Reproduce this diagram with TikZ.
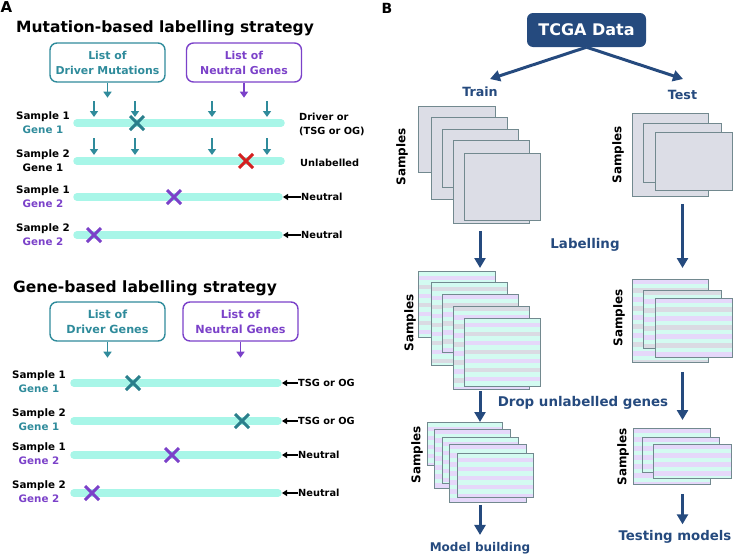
\documentclass[tikz,border=0pt]{standalone}
\usepackage{fontspec}
\setmainfont{DejaVu Sans}
\usetikzlibrary{arrows.meta,positioning,shapes.misc}

\definecolor{drvteal}{HTML}{2F8B9B}
\definecolor{drvtealdk}{HTML}{2A7F8C}
\definecolor{neupurple}{HTML}{7B41C9}
\definecolor{barcyan}{HTML}{A8F6E8}
\definecolor{mutred}{HTML}{D42020}
\definecolor{navy}{HTML}{254A7E}
\definecolor{sheetgray}{HTML}{DCDDE6}
\definecolor{sheetedge}{HTML}{72898F}
\definecolor{bandcyan}{HTML}{D3FBF1}
\definecolor{bandlav}{HTML}{E5D8FA}
\definecolor{bandgray}{HTML}{DADBE3}

\newcommand{\fsz}[2]{\fontsize{#1}{#2}\selectfont\bfseries}

\tikzset{
  listbox/.style={draw=#1,text=#1,line width=1.4pt,rounded corners=7pt,minimum width=115pt,
    minimum height=39pt,align=center,inner sep=0pt,font=\fsz{10.9}{15}},
  thinarr/.style={-{Triangle[length=6pt,width=8pt]},line width=1.5pt,draw=#1},
  barline/.style={line width=7.5pt,line cap=round,draw=barcyan},
  mutx/.style={cross out,draw=#1,line width=3pt,minimum size=11pt,inner sep=0pt},
  smp/.style={font=\fsz{10.3}{12},inner sep=0pt},
  sidelbl/.style={font=\fsz{9.8}{14},anchor=west,inner sep=0pt,align=left},
  lblarr/.style={-{Triangle[length=5pt,width=6pt]},line width=1.3pt},
  sheet/.style={draw=sheetedge,fill=sheetgray,line width=0.9pt,anchor=north west,inner sep=0pt},
  stripes/.style n args={2}{path picture={
    \foreach \k in {0,...,19}{
      \pgfmathtruncatemacro\bandc{mod(\k+#2,#1)}
      \ifcase\bandc\relax \def\bandcol{bandcyan}\or \def\bandcol{bandlav}\or
        \def\bandcol{bandcyan}\or \def\bandcol{bandgray}\fi
      \fill[\bandcol] ([yshift=-\k*4.5pt]path picture bounding box.north west)
        rectangle ([yshift=-\k*4.5pt-4.5pt]path picture bounding box.north east);
    }}},
  bigarr/.style={-{Triangle[length=10pt,width=11pt]},line width=3pt,draw=navy},
  steplbl/.style={text=navy,inner sep=0pt,font=\fsz{13.4}{16}},
  smpv/.style={rotate=90,inner sep=0pt,font=\fsz{12}{14}},
  tcgabox/.style={fill=navy,text=white,rounded corners=6pt,minimum width=119pt,
    minimum height=34pt,inner sep=0pt,font=\fsz{16}{19}},
}

\begin{document}
\begin{tikzpicture}[x=1pt,y=-1pt]
  \useasboundingbox (0,0) rectangle (733,557);

  % ---- A: mutation-based labelling
  \node[font=\fsz{15}{18},inner sep=0pt] (pa) at (6.5,7.5) {A};
  \node[font=\fsz{15.5}{18},anchor=west,inner sep=0pt] (mtitle) at (16,28) {Mutation-based labelling strategy};
  \node[listbox=drvteal] (mdrv) at (107.5,62.5) {List of\\Driver Mutations};
  \node[listbox=neupurple] (mneu) at (244,62.5) {List of\\Neutral Genes};
  \draw[thinarr=drvteal] (mdrv.south) -- ++(0,15);
  \draw[thinarr=neupurple] (mneu.south) -- ++(0,15);
  \foreach \x in {94,135,212,267}{
    \draw[thinarr=drvteal] (\x,101) -- (\x,117);
    \draw[thinarr=drvteal] (\x,138) -- (\x,155);
  }
  \foreach \r/\y/\xe/\s/\g/\gc in {1/123/281/1/1/drvteal,2/161/281/2/1/black,
      3/197/279/1/2/neupurple,4/235/279/2/2/neupurple}{
    \draw[barline] (77,\y) -- (\xe,\y);
    \coordinate (mb\r) at (\xe+4,\y);
    \node[smp] (ms\r) at (43,\y-6) {Sample \s};
    \node[smp,text=\gc] (mg\r) at (43,\y+7) {Gene \g};
  }
  \node[mutx=drvtealdk] (mx1) at (137,123) {};
  \node[mutx=mutred] (mx2) at (246,161) {};
  \node[mutx=neupurple] (mx3) at (174,197) {};
  \node[mutx=neupurple] (mx4) at (94,235) {};
  \node[sidelbl] (ml1) at (299,124) {Driver or\\(TSG or OG)};
  \node[sidelbl] (ml2) at (300,163) {Unlabelled};
  \node[sidelbl] (ml3) at (301,197) {Neutral};
  \node[sidelbl] (ml4) at (301,235) {Neutral};
  \draw[lblarr] (ml3) -- (mb3);
  \draw[lblarr] (ml4) -- (mb4);

  % ---- A: gene-based labelling
  \node[font=\fsz{15.5}{18},anchor=west,inner sep=0pt] (gtitle) at (13,288) {Gene-based labelling strategy};
  \node[listbox=drvteal,font=\fsz{11.2}{15}] (gdrv) at (107.5,321.5) {List of\\Driver Genes};
  \node[listbox=neupurple,font=\fsz{11.2}{15}] (gneu) at (240.5,321.5) {List of\\Neutral Genes};
  \draw[thinarr=drvteal] (gdrv.south) -- ++(0,16);
  \draw[thinarr=neupurple] (gneu.south) -- ++(0,16);
  \foreach \r/\y/\s/\g/\gc/\lb in {1/383/1/1/drvteal/TSG or OG,2/421/2/1/drvteal/TSG or OG,
      3/455/1/2/neupurple/Neutral,4/493/2/2/neupurple/Neutral}{
    \draw[barline] (74,\y) -- (278,\y);
    \coordinate (gb\r) at (282,\y);
    \node[smp] (gs\r) at (39,\y-7) {Sample \s};
    \node[smp,text=\gc] (gg\r) at (39,\y+6) {Gene \g};
    \node[sidelbl] (gl\r) at (298,\y) {\lb};
    \draw[lblarr] (gl\r) -- (gb\r);
  }
  \node[mutx=drvtealdk] (gx1) at (133,383) {};
  \node[mutx=drvtealdk] (gx2) at (242,421) {};
  \node[mutx=neupurple] (gx3) at (172,455) {};
  \node[mutx=neupurple] (gx4) at (92,493) {};

  % ---- B: workflow
  \node[font=\fsz{14}{17},inner sep=0pt] (pb) at (387,8) {B};
  \node[tcgabox] (tcga) at (586.5,30) {TCGA Data};
  \node[steplbl,font=\fsz{12.7}{15}] (train) at (480,92) {Train};
  \node[steplbl,font=\fsz{12.7}{15}] (test) at (682.5,95) {Test};
  \coordinate (trtip) at (490,79);
  \coordinate (tstip) at (683,79);
  \draw[bigarr] (tcga.south) -- (trtip);
  \draw[bigarr] (tcga.south) -- (tstip);

  % raw sheets
  \foreach \i/\x/\y/\w/\h in {1/418/106/77/66,2/431/117/76/82,3/442/129/76/58,4/453/140/76/83,5/464/153/76/67}
    \node[sheet,minimum width=\w,minimum height=\h] (tr\i) at (\x,\y) {};
  \foreach \i/\x/\y/\w/\h in {1/632/113/76/83,2/643/123/78/59,3/655/132/77/58}
    \node[sheet,minimum width=\w,minimum height=\h] (ts\i) at (\x,\y) {};
  \node[smpv] (smp1) at (402,157) {Samples};
  \node[smpv] (smp2) at (618,155) {Samples};

  % labelled sheets
  \foreach \i/\x/\y/\w/\h/\o in {1/418/271/77/66/0,2/431/282/76/83/2,3/442/294/76/58/1,4/453/306/76/83/3,5/464/318/76/68/0}
    \node[sheet,stripes={4}{\o},minimum width=\w,minimum height=\h] (lt\i) at (\x,\y) {};
  \foreach \i/\x/\y/\w/\h/\o in {1/632/279/76/83/1,2/643/290/78/58/3,3/655/298/77/59/1}
    \node[sheet,stripes={4}{\o},minimum width=\w,minimum height=\h] (le\i) at (\x,\y) {};
  \node[smpv] (smp3) at (410,323) {Samples};
  \node[smpv] (smp4) at (619,318) {Samples};

  % kept genes only
  \foreach \i/\x/\y/\w/\h/\o in {1/427/422/75/43/0,2/434/429/76/59/1,3/442/437/76/46/0,4/449/444/77/58/1,5/457/453/76/44/0}
    \node[sheet,stripes={2}{\o},minimum width=\w,minimum height=\h] (md\i) at (\x,\y) {};
  \foreach \i/\x/\y/\w/\h/\o in {1/633/428/77/56/1,2/642/437/77/35/1,3/653/444/78/34/1}
    \node[sheet,stripes={2}{\o},minimum width=\w,minimum height=\h] (fe\i) at (\x,\y) {};
  \node[smpv] (smp5) at (417,455) {Samples};
  \node[smpv] (smp6) at (623,457) {Samples};

  \node[steplbl] (lab) at (585,245) {Labelling};
  \node[steplbl] (drop) at (583,403) {Drop unlabelled genes};
  \node[steplbl,font=\fsz{12}{15}] (model) at (480,548) {Model building};
  \node[steplbl,font=\fsz{13.3}{16}] (testing) at (675,537) {Testing models};

  \draw[bigarr,shorten <=7pt,shorten >=3pt] (tr4.south -| train) -- (lt1.north -| train);
  \draw[bigarr,shorten <=7pt,shorten >=11pt] (ts1.south -| test) -- (le1.north -| test);
  \draw[bigarr,shorten <=1pt] (lt4.south -| train) -- (md1.north -| train);
  \draw[bigarr,shorten <=9pt,shorten >=8pt] (le1.south -| test) -- (fe1.north -| test);
  \draw[bigarr,shorten <=2pt,shorten >=7pt] (md4.south -| train) -- (model.north);
  \draw[bigarr,shorten <=9pt,shorten >=6pt] (fe1.south -| test) -- (testing.north -| test);
\end{tikzpicture}
\end{document}
